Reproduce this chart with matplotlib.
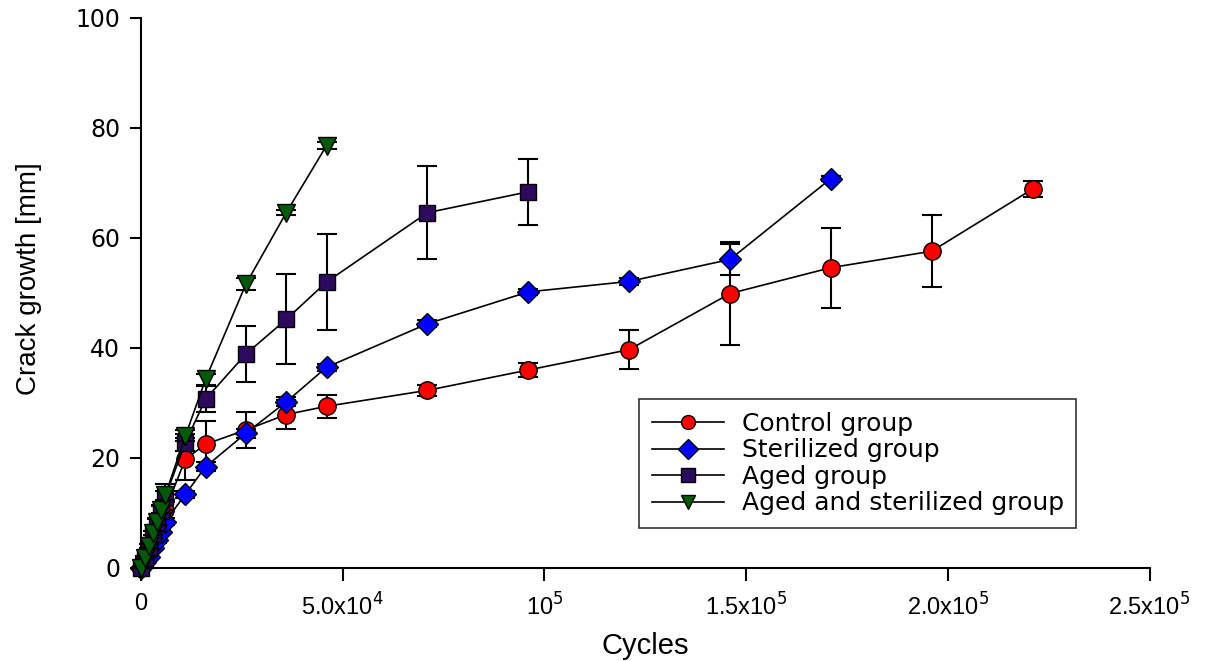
import matplotlib.pyplot as plt
import numpy as np

# cycles (same sampling for all groups)
cycles = [0, 1000, 2000, 3000, 4000, 5000, 6000, 11000, 16000, 26000, 36000,
          46000, 71000, 96000, 121000, 146000, 171000, 196000, 221000]

control = [0, 1.5, 3.0, 4.6, 6.3, 8.2, 10.5, 19.8, 22.5, 25.1, 27.9, 29.4,
           32.3, 36.0, 39.7, 49.9, 54.6, 57.6, 68.9]
control_err = [0, 0.5, 0.5, 0.6, 0.8, 1.0, 1.5, 3.8, 4.3, 3.2, 2.6, 2.1,
               1.0, 1.3, 3.6, 9.3, 7.3, 6.6, 1.5]

steril_n = 17
sterilized = [0, 1.0, 2.0, 3.6, 5.0, 6.6, 8.4, 13.4, 18.4, 24.5, 30.2, 36.5,
              44.4, 50.2, 52.1, 56.1, 70.8]
steril_err = [0, 0.3, 0.3, 0.4, 0.4, 0.5, 0.6, 0.6, 0.8, 0.8, 0.8, 0.6,
              0.6, 0.6, 0.6, 2.8, 0.5]

aged_n = 14
aged = [0, 1.8, 3.8, 6.1, 8.2, 10.3, 12.9, 22.8, 30.7, 38.9, 45.2, 52.0,
        64.6, 68.4]
aged_err = [0, 0.4, 0.5, 0.6, 0.8, 1.2, 2.4, 1.5, 2.3, 5.1, 8.2, 8.7,
            8.5, 6.0]

agst_n = 12
aged_steril = [0, 1.9, 4.0, 6.4, 8.4, 10.6, 13.2, 24.0, 34.3, 51.6, 64.6, 76.8]
agst_err = [0, 0.3, 0.4, 0.4, 0.5, 0.6, 0.8, 1.0, 1.0, 1.1, 0.5, 0.7]

labels = ['Control group', 'Sterilized group', 'Aged group', 'Aged and sterilized group']

fig = plt.figure(figsize=(12.05, 6.61), dpi=100)
ax = fig.add_axes([0.117, 0.1407, 0.837, 0.8321])

series = [
    (cycles, control, control_err, 'o', '#FF0000', 12.5),
    (cycles[:steril_n], sterilized, steril_err, 'D', '#0000FF', 11.5),
    (cycles[:aged_n], aged, aged_err, 's', '#2E0A5E', 12),
    (cycles[:agst_n], aged_steril, agst_err, 'v', '#005A0A', 13),
]

handles = []
for i, (x, y, e, m, c, ms) in enumerate(series):
    ax.errorbar(x, y, yerr=e, fmt='none', ecolor='black', elinewidth=1.5,
                capsize=7, capthick=1.5, zorder=2 + i * 2, clip_on=False)
    h, = ax.plot(x, y, color='black', lw=1.2, marker=m, markersize=ms,
                 markerfacecolor=c, markeredgecolor='black', markeredgewidth=1,
                 zorder=3 + i * 2, clip_on=False, label=labels[i])
    handles.append(h)

ax.set_xlim(0, 250000)
ax.set_ylim(0, 100)
ax.spines['top'].set_visible(False)
ax.spines['right'].set_visible(False)
ax.spines['left'].set_linewidth(1.5)
ax.spines['bottom'].set_linewidth(1.5)

ax.set_xticks([0, 50000, 100000, 150000, 200000, 250000])
ax.set_xticklabels(['0', r'5.0x10$^4$', r'10$^5$', r'1.5x10$^5$', r'2.0x10$^5$', r'2.5x10$^5$'],
                   fontfamily='Liberation Sans', fontsize=17)
ax.set_yticks([0, 20, 40, 60, 80, 100])
ax.set_yticklabels(['0', '20', '40', '60', '80', '100'],
                   fontfamily='DejaVu Sans', fontsize=17)
ax.tick_params(axis='y', direction='out', length=8, width=1.5, pad=7)
ax.tick_params(axis='x', direction='out', length=9, width=1.5, pad=9)

ax.set_xlabel('Cycles', fontfamily='Liberation Sans', fontsize=21)
ax.xaxis.set_label_coords(0.5, -0.117)
ax.set_ylabel('Crack growth [mm]', fontfamily='Liberation Sans', fontsize=20)
ax.yaxis.set_label_coords(-0.098, 0.527)

leg = ax.legend(handles=handles, loc='lower left', bbox_to_anchor=(0.494, 0.073),
                frameon=True, fancybox=False, edgecolor='black', numpoints=1,
                handlelength=2.9, prop={'family': 'DejaVu Sans', 'size': 18},
                borderpad=0.5, labelspacing=0.1, handletextpad=0.7,
                borderaxespad=0)
leg.get_frame().set_linewidth(1.2)
for lh in leg.legend_handles:
    lh.set_markersize(10)

fig.savefig('out.png', dpi=100)
